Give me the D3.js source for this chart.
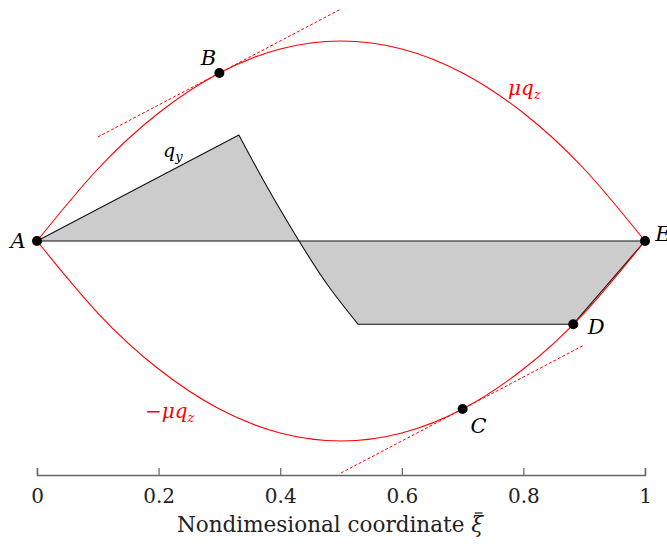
<!DOCTYPE html>
<meta charset="utf-8">
<script src="https://d3js.org/d3.v7.min.js"></script>
<style>
body { margin: 0; background: #fff; }
svg text { font-family: "DejaVu Serif", serif; }
</style>
<div id="my_dataviz"></div>
<script>
// values
var xiSamples = [0, 0.1, 0.2, 0.3, 0.4, 0.5, 0.6, 0.7, 0.8, 0.9, 1];
var muQz = [0, 0.36, 0.64, 0.84, 0.96, 1, 0.96, 0.84, 0.64, 0.36, 0];

// q_y outline: straight rise, curved fall, flat part, straight rise back
var qyRiseXi = [0, 0.332];
var qyRiseVal = [0, 0.53];
var qyFallXi = [0.332, 0.38, 0.431, 0.478, 0.528];
var qyFallVal = [0.53, 0.262, 0, -0.22, -0.416];
var qyFlatXi = [0.528, 0.882, 1];
var qyFlatVal = [-0.416, -0.416, 0];

var tanB = [[0.1, 0.52], [0.5, 1.16]];
var tanC = [[0.5, -1.16], [0.9, -0.52]];

var pointNames = ["A", "B", "C", "D", "E"];
var pointXi = [0, 0.3, 0.7, 0.882, 1];
var pointVal = [0, 0.84, -0.84, -0.416, 0];

var xTicks = [0, 0.2, 0.4, 0.6, 0.8, 1];

var width = 667, height = 547;

var svg = d3.select("#my_dataviz")
  .append("svg")
    .attr("width", width)
    .attr("height", height);

var x = d3.scaleLinear().domain([0, 1]).range([37, 645]);
var y = d3.scaleLinear().domain([-1, 1]).range([441, 41]);

function pairs(a, b) { return a.map(function(d, i) { return [d, b[i]]; }); }

var line = d3.line()
  .x(function(d) { return x(d[0]); })
  .y(function(d) { return y(d[1]); });

// q_y polygon
var pRise = line.curve(d3.curveLinear)(pairs(qyRiseXi, qyRiseVal));
var pFall = line.curve(d3.curveNatural)(pairs(qyFallXi, qyFallVal)).replace(/^M/, "L");
var pFlat = line.curve(d3.curveLinear)(pairs(qyFlatXi, qyFlatVal)).replace(/^M/, "L");
svg.append("path")
  .attr("d", pRise + pFall + pFlat + "Z")
  .attr("fill", "#cccccc")
  .attr("stroke", "#111")
  .attr("stroke-width", 1.1)
  .attr("stroke-linejoin", "round");

// red curves
var upper = pairs(xiSamples, muQz);
var lower = xiSamples.map(function(d, i) { return [d, -muQz[i]]; });

[upper, lower].forEach(function(c) {
  svg.append("path")
    .datum(c)
    .attr("d", line.curve(d3.curveNatural))
    .attr("fill", "none")
    .attr("stroke", "#ff0000")
    .attr("stroke-width", 1.1);
});

// tangent lines
[tanB, tanC].forEach(function(t) {
  svg.append("path")
    .datum(t)
    .attr("d", line.curve(d3.curveLinear))
    .attr("fill", "none")
    .attr("stroke", "#ff0000")
    .attr("stroke-width", 1)
    .attr("stroke-dasharray", "3,2");
});

// x axis
var axis = svg.append("g")
  .attr("transform", "translate(0,475)")
  .call(d3.axisTop(x).tickValues(xTicks).tickSize(7).tickFormat(d3.format("")));
axis.attr("font-family", null);
axis.select(".domain").attr("stroke", "#666").attr("stroke-width", 1.5);
axis.selectAll(".tick line").attr("stroke", "#666").attr("stroke-width", 1.2);
axis.selectAll(".tick text")
  .attr("y", 22)
  .attr("dy", "0.32em")
  .attr("fill", "#222")
  .style("font-size", "20px");

var title = svg.append("text")
  .attr("x", 330)
  .attr("y", 532)
  .attr("text-anchor", "middle")
  .attr("fill", "#222")
  .style("font-size", "21.5px")
  .html('Nondimesional coordinate <tspan font-style="italic">ξ</tspan>');

// macron over xi
var n = title.text().length;
var box = title.node().getExtentOfChar(n - 1);
svg.append("line")
  .attr("x1", box.x + box.width * 0.3)
  .attr("x2", box.x + box.width * 0.95)
  .attr("y1", box.y + 1)
  .attr("y2", box.y + 1)
  .attr("stroke", "#222")
  .attr("stroke-width", 1.3);

// points
svg.selectAll("circle.pt")
  .data(pointNames)
  .enter()
  .append("circle")
    .attr("class", "pt")
    .attr("cx", function(d, i) { return x(pointXi[i]); })
    .attr("cy", function(d, i) { return y(pointVal[i]); })
    .attr("r", 5)
    .attr("fill", "#000");

var labelOffsets = [[-19, 7], [-11, -8], [16, 24], [23, 10], [18, 0]];
svg.selectAll("text.pt")
  .data(pointNames)
  .enter()
  .append("text")
    .attr("class", "pt")
    .attr("x", function(d, i) { return x(pointXi[i]) + labelOffsets[i][0]; })
    .attr("y", function(d, i) { return y(pointVal[i]) + labelOffsets[i][1]; })
    .attr("text-anchor", "middle")
    .style("font-style", "italic")
    .style("font-size", "21px")
    .text(function(d) { return d; });

// curve labels
svg.append("text")
  .attr("x", 163).attr("y", 157)
  .style("font-style", "italic").style("font-size", "19px")
  .html('q<tspan dy="4" font-size="13px">y</tspan>');

svg.append("text")
  .attr("x", 508).attr("y", 95)
  .attr("fill", "#ff0000")
  .style("font-style", "italic").style("font-size", "20px")
  .html('μq<tspan dy="4" font-size="13px">z</tspan>');

svg.append("text")
  .attr("x", 145).attr("y", 418)
  .attr("fill", "#ff0000")
  .style("font-style", "italic").style("font-size", "20px")
  .html('<tspan font-style="normal">−</tspan>μq<tspan dy="4" font-size="13px">z</tspan>');
</script>
